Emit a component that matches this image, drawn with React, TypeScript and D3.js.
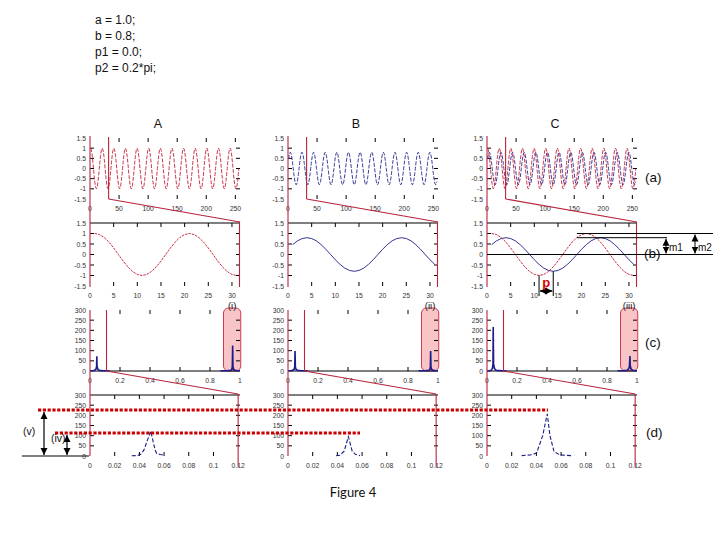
import React from "react";
import * as d3 from "d3";

// ---------------- data ----------------
const paramLines = ["a = 1.0;", "b = 0.8;", "p1 = 0.0;", "p2 = 0.2*pi;"];
const columnTitles = ["A", "B", "C"];
const rowLabels = ["(a)", "(b)", "(c)", "(d)"];
const boxLabels = ["(i)", "(ii)", "(iii)"];
const figureCaption = "Figure 4";

// time signals, samples 1..256
const signalA = [
  1, 0.95, 0.81, 0.59, 0.31, 0, -0.31, -0.59, -0.81, -0.95, -1, -0.95, -0.81, -0.59, -0.31, 0, 0.31, 0.59, 0.81, 0.95,
  1, 0.95, 0.81, 0.59, 0.31, 0, -0.31, -0.59, -0.81, -0.95, -1, -0.95, -0.81, -0.59, -0.31, 0, 0.31, 0.59, 0.81, 0.95,
  1, 0.95, 0.81, 0.59, 0.31, 0, -0.31, -0.59, -0.81, -0.95, -1, -0.95, -0.81, -0.59, -0.31, 0, 0.31, 0.59, 0.81, 0.95,
  1, 0.95, 0.81, 0.59, 0.31, 0, -0.31, -0.59, -0.81, -0.95, -1, -0.95, -0.81, -0.59, -0.31, 0, 0.31, 0.59, 0.81, 0.95,
  1, 0.95, 0.81, 0.59, 0.31, 0, -0.31, -0.59, -0.81, -0.95, -1, -0.95, -0.81, -0.59, -0.31, 0, 0.31, 0.59, 0.81, 0.95,
  1, 0.95, 0.81, 0.59, 0.31, 0, -0.31, -0.59, -0.81, -0.95, -1, -0.95, -0.81, -0.59, -0.31, 0, 0.31, 0.59, 0.81, 0.95,
  1, 0.95, 0.81, 0.59, 0.31, 0, -0.31, -0.59, -0.81, -0.95, -1, -0.95, -0.81, -0.59, -0.31, 0, 0.31, 0.59, 0.81, 0.95,
  1, 0.95, 0.81, 0.59, 0.31, 0, -0.31, -0.59, -0.81, -0.95, -1, -0.95, -0.81, -0.59, -0.31, 0, 0.31, 0.59, 0.81, 0.95,
  1, 0.95, 0.81, 0.59, 0.31, 0, -0.31, -0.59, -0.81, -0.95, -1, -0.95, -0.81, -0.59, -0.31, 0, 0.31, 0.59, 0.81, 0.95,
  1, 0.95, 0.81, 0.59, 0.31, 0, -0.31, -0.59, -0.81, -0.95, -1, -0.95, -0.81, -0.59, -0.31, 0, 0.31, 0.59, 0.81, 0.95,
  1, 0.95, 0.81, 0.59, 0.31, 0, -0.31, -0.59, -0.81, -0.95, -1, -0.95, -0.81, -0.59, -0.31, 0, 0.31, 0.59, 0.81, 0.95,
  1, 0.95, 0.81, 0.59, 0.31, 0, -0.31, -0.59, -0.81, -0.95, -1, -0.95, -0.81, -0.59, -0.31, 0, 0.31, 0.59, 0.81, 0.95,
  1, 0.95, 0.81, 0.59, 0.31, 0, -0.31, -0.59, -0.81, -0.95, -1, -0.95, -0.81, -0.59, -0.31, 0,
];
const signalB = [
  0.47, 0.65, 0.76, 0.8, 0.76, 0.65, 0.47, 0.25, 0, -0.25, -0.47, -0.65, -0.76, -0.8, -0.76, -0.65, -0.47, -0.25, 0, 0.25,
  0.47, 0.65, 0.76, 0.8, 0.76, 0.65, 0.47, 0.25, 0, -0.25, -0.47, -0.65, -0.76, -0.8, -0.76, -0.65, -0.47, -0.25, 0, 0.25,
  0.47, 0.65, 0.76, 0.8, 0.76, 0.65, 0.47, 0.25, 0, -0.25, -0.47, -0.65, -0.76, -0.8, -0.76, -0.65, -0.47, -0.25, 0, 0.25,
  0.47, 0.65, 0.76, 0.8, 0.76, 0.65, 0.47, 0.25, 0, -0.25, -0.47, -0.65, -0.76, -0.8, -0.76, -0.65, -0.47, -0.25, 0, 0.25,
  0.47, 0.65, 0.76, 0.8, 0.76, 0.65, 0.47, 0.25, 0, -0.25, -0.47, -0.65, -0.76, -0.8, -0.76, -0.65, -0.47, -0.25, 0, 0.25,
  0.47, 0.65, 0.76, 0.8, 0.76, 0.65, 0.47, 0.25, 0, -0.25, -0.47, -0.65, -0.76, -0.8, -0.76, -0.65, -0.47, -0.25, 0, 0.25,
  0.47, 0.65, 0.76, 0.8, 0.76, 0.65, 0.47, 0.25, 0, -0.25, -0.47, -0.65, -0.76, -0.8, -0.76, -0.65, -0.47, -0.25, 0, 0.25,
  0.47, 0.65, 0.76, 0.8, 0.76, 0.65, 0.47, 0.25, 0, -0.25, -0.47, -0.65, -0.76, -0.8, -0.76, -0.65, -0.47, -0.25, 0, 0.25,
  0.47, 0.65, 0.76, 0.8, 0.76, 0.65, 0.47, 0.25, 0, -0.25, -0.47, -0.65, -0.76, -0.8, -0.76, -0.65, -0.47, -0.25, 0, 0.25,
  0.47, 0.65, 0.76, 0.8, 0.76, 0.65, 0.47, 0.25, 0, -0.25, -0.47, -0.65, -0.76, -0.8, -0.76, -0.65, -0.47, -0.25, 0, 0.25,
  0.47, 0.65, 0.76, 0.8, 0.76, 0.65, 0.47, 0.25, 0, -0.25, -0.47, -0.65, -0.76, -0.8, -0.76, -0.65, -0.47, -0.25, 0, 0.25,
  0.47, 0.65, 0.76, 0.8, 0.76, 0.65, 0.47, 0.25, 0, -0.25, -0.47, -0.65, -0.76, -0.8, -0.76, -0.65, -0.47, -0.25, 0, 0.25,
  0.47, 0.65, 0.76, 0.8, 0.76, 0.65, 0.47, 0.25, 0, -0.25, -0.47, -0.65, -0.76, -0.8, -0.76, -0.65,
];
const zoomSamples = 31; // samples shown in row (b)
const zoomMarkTime = 32; // right edge of zoomed window in row (a)

// tick values
const timeTicksFull = [0, 50, 100, 150, 200, 250];
const timeTicksZoom = [0, 5, 10, 15, 20, 25, 30];
const ampTicks = [-1.5, -1, -0.5, 0, 0.5, 1, 1.5];
const freqTicksFull = [0, 0.2, 0.4, 0.6, 0.8, 1];
const freqTicksZoom = [0, 0.02, 0.04, 0.06, 0.08, 0.1, 0.12];
const magTicks = [0, 50, 100, 150, 200, 250, 300];

// spectra [frequency, magnitude], row (c): low band and mirrored high band
const specLowA = [[0, 1.5], [0.02, 1.5], [0.03, 3], [0.04, 9], [0.044, 22], [0.0455, 72], [0.047, 24], [0.052, 9], [0.062, 3], [0.09, 1.5], [0.13, 1]];
const specHighA = [[0.87, 1], [0.91, 1.5], [0.938, 3], [0.946, 9], [0.949, 24], [0.951, 125], [0.953, 22], [0.957, 9], [0.968, 3], [0.985, 1.5], [1, 1.5]];
const specLowB = [[0, 1.5], [0.02, 1.5], [0.03, 3], [0.04, 8], [0.045, 20], [0.047, 98], [0.049, 20], [0.054, 8], [0.064, 3], [0.09, 1.5], [0.13, 1]];
const specHighB = [[0.87, 1], [0.91, 1.5], [0.937, 3], [0.946, 8], [0.949, 20], [0.951, 98], [0.953, 20], [0.958, 8], [0.968, 3], [0.985, 1.5], [1, 1.5]];
const specLowC = [[0, 1.5], [0.02, 2], [0.028, 4], [0.036, 12], [0.04, 35], [0.0415, 216], [0.0425, 130], [0.044, 35], [0.05, 12], [0.06, 4], [0.09, 2], [0.13, 1]];
const specHighC = [[0.87, 1], [0.91, 2], [0.935, 4], [0.946, 12], [0.95, 28], [0.953, 74], [0.955, 26], [0.96, 10], [0.97, 4], [0.985, 2], [1, 1.5]];
// row (d): zoomed spectra
const specZoomA = [[0.0338, 1], [0.0383, 2], [0.041, 8], [0.0437, 30], [0.0492, 122], [0.0527, 30], [0.054, 12], [0.057, 7], [0.0594, 5]];
const specZoomB = [[0.0389, 1], [0.042, 4], [0.0455, 24], [0.0489, 95], [0.052, 24], [0.0545, 8], [0.0583, 2]];
const specZoomC = [[0.0281, 2], [0.035, 5], [0.0402, 15], [0.0451, 100], [0.0488, 207], [0.051, 100], [0.0543, 21], [0.059, 6], [0.065, 3], [0.0697, 1]];
const spectrumZoomMark = 0.11; // red marker in row (c)
const spectrumZoomEnd = 0.12; // red marker in row (d)
const boxBand = [0.89, 1.005]; // pink highlight band in row (c)

// annotations
const phaseSpan = [11, 14]; // p: trough of red vs trough of blue (samples)
const phaseLevels = [-1, -0.8];
const m1Level = 0.8;
const m2Level = 1.0;
const mLineStart = 19;
const levelV = 226; // (v) level in row (d) units
const levelIV = 113; // (iv) level in row (d) units

// ---------------- layout ----------------
const COL_LEFT = [90, 288, 487];
const COL_W = 150;
const ROW_A = [199, 138];
const ROW_B = [286, 223];
const ROW_C = [371, 310];
const ROW_D = [456, 395];

const RED = "#c4152d";
const ZRED = "#b8243c";
const BLUE = "#1c1c8a";
const FONT = "'Liberation Sans', Arial, sans-serif";

type Pt = [number, number];

function Frame({ x, y, xTicks, yTicks, top, bottom, left, right }: any) {
  const fmt = (v: number) => String(v);
  return (
    <g fontFamily={FONT} fontSize={6.8} fill="#333">
      {xTicks.map((t: number) => (
        <text key={"xl" + t} x={x(t)} y={bottom + 11.5} textAnchor="middle">
          {fmt(t)}
        </text>
      ))}
      {yTicks.map((t: number) => (
        <text key={"yl" + t} x={left - 4} y={y(t) + 2.5} textAnchor="end">
          {fmt(t)}
        </text>
      ))}
      <g stroke="#000" strokeWidth={1}>
        {xTicks
          .filter((t: number) => x(t) > left + 2 && x(t) < right - 2)
          .map((t: number) => (
            <g key={"xt" + t}>
              <line x1={x(t)} x2={x(t)} y1={top} y2={top + 4} />
              <line x1={x(t)} x2={x(t)} y1={bottom} y2={bottom - 4} />
            </g>
          ))}
        {yTicks
          .filter((t: number) => y(t) > top + 2 && y(t) < bottom - 2)
          .map((t: number) => (
            <g key={"yt" + t}>
              <line x1={right} x2={right - 4} y1={y(t)} y2={y(t)} />
              <line x1={left} x2={left + 4} y1={y(t)} y2={y(t)} />
            </g>
          ))}
      </g>
    </g>
  );
}

export default function App() {
  const columns = [
    { sigs: [{ d: signalA, c: RED }], low: specLowA, high: specHighA, zoom: specZoomA },
    { sigs: [{ d: signalB, c: BLUE }], low: specLowB, high: specHighB, zoom: specZoomB },
    {
      sigs: [
        { d: signalB, c: BLUE },
        { d: signalA, c: RED },
      ],
      low: specLowC,
      high: specHighC,
      zoom: specZoomC,
    },
  ];

  const dScaleY = d3.scaleLinear().domain([0, 300]).range(ROW_D);
  const cScaleB = d3.scaleLinear().domain([-1.5, 1.5]).range(ROW_B);
  const cxB = d3.scaleLinear().domain([0, 31.7]).range([COL_LEFT[2], COL_LEFT[2] + COL_W]);

  return (
    <svg
      width={720}
      height={540}
      style={{ position: "absolute", left: 0, top: 0, background: "#fff" }}
    >
      <defs>
        <marker
          id="ah"
          markerUnits="userSpaceOnUse"
          markerWidth={8}
          markerHeight={8}
          refX={7}
          refY={4}
          orient="auto-start-reverse"
        >
          <path d="M0,0.5 L7,4 L0,7.5 Z" fill="#000" />
        </marker>
      </defs>
      <rect width={720} height={540} fill="#fff" />

      {/* parameter text */}
      <g fontFamily={FONT} fontSize={12} fill="#111">
        {paramLines.map((s, i) => (
          <text key={s} x={95} y={24 + i * 16}>
            {s}
          </text>
        ))}
      </g>

      {columns.map((col, ci) => {
        const L = COL_LEFT[ci];
        const R = L + COL_W;
        const xa = d3.scaleLinear().domain([0, 258]).range([L, R]);
        const ya = d3.scaleLinear().domain([-1.5, 1.5]).range(ROW_A);
        const xb = d3.scaleLinear().domain([0, 31.7]).range([L, R]);
        const yb = d3.scaleLinear().domain([-1.5, 1.5]).range(ROW_B);
        const xc = d3.scaleLinear().domain([0, 1]).range([L, R]);
        const yc = d3.scaleLinear().domain([0, 300]).range(ROW_C);
        const xd = d3.scaleLinear().domain([0, 0.1215]).range([L, R]);
        const yd = d3.scaleLinear().domain([0, 300]).range(ROW_D);
        const la = d3.line<Pt>().x((p) => xa(p[0])).y((p) => ya(p[1]));
        const lb = d3.line<Pt>().x((p) => xb(p[0])).y((p) => yb(p[1]));
        const lc = d3.line<Pt>().x((p) => xc(p[0])).y((p) => yc(p[1]));
        const ld = d3.line<Pt>().x((p) => xd(p[0])).y((p) => yd(p[1]));
        return (
          <g key={ci}>
            <text
              x={(L + R) / 2 - 7}
              y={128}
              textAnchor="middle"
              fontFamily={FONT}
              fontSize={12.5}
              fill="#111"
            >
              {columnTitles[ci]}
            </text>

            {/* row a */}
            <Frame x={xa} y={ya} xTicks={timeTicksFull} yTicks={ampTicks} top={ROW_A[1]} bottom={ROW_A[0]} left={L} right={R} />
            {col.sigs.map((s, si) => (
              <path
                key={"a" + si}
                d={la(s.d.map((v, i) => [i + 1, v] as Pt)) || ""}
                fill="none"
                stroke={s.c}
                strokeWidth={0.85}
                strokeDasharray="4 1.5"
              />
            ))}

            {/* row b */}
            <line x1={L} x2={R} y1={ROW_B[1]} y2={ROW_B[1]} stroke="#000" strokeWidth={1.2} />
            <Frame x={xb} y={yb} xTicks={timeTicksZoom} yTicks={ampTicks} top={ROW_B[1]} bottom={ROW_B[0]} left={L} right={R} />
            {col.sigs.map((s, si) => (
              <path
                key={"b" + si}
                d={lb(s.d.slice(0, zoomSamples).map((v, i) => [i + 1, v] as Pt)) || ""}
                fill="none"
                stroke={s.c}
                strokeWidth={0.9}
                strokeDasharray={s.c === RED ? "2.5 1" : undefined}
              />
            ))}

            {/* row c */}
            <rect
              x={xc(boxBand[0])}
              y={ROW_C[1] - 2}
              width={xc(boxBand[1]) - xc(boxBand[0])}
              height={ROW_C[0] - ROW_C[1] + 2}
              rx={5}
              fill="#f8c4c6"
              stroke="#d23a52"
              strokeWidth={1}
            />
            <text
              x={(xc(boxBand[0]) + xc(boxBand[1])) / 2}
              y={ROW_C[1] - 1}
              textAnchor="middle"
              fontFamily={FONT}
              fontSize={9.5}
              fill="#111"
            >
              {boxLabels[ci]}
            </text>
            <Frame x={xc} y={yc} xTicks={freqTicksFull} yTicks={magTicks} top={ROW_C[1]} bottom={ROW_C[0]} left={L} right={R} />
            <line x1={L} x2={R} y1={ROW_C[0]} y2={ROW_C[0]} stroke="#000" strokeWidth={1.2} />
            <path d={lc(col.low as Pt[]) || ""} fill="none" stroke={BLUE} strokeWidth={1.6} />
            <path d={lc(col.high as Pt[]) || ""} fill="none" stroke={BLUE} strokeWidth={1.6} />

            {/* row d */}
            <line x1={L} x2={R} y1={ROW_D[1]} y2={ROW_D[1]} stroke="#000" strokeWidth={1.2} />
            <Frame x={xd} y={yd} xTicks={freqTicksZoom} yTicks={magTicks} top={ROW_D[1]} bottom={ROW_D[0]} left={L} right={R} />
            <path d={ld(col.zoom as Pt[]) || ""} fill="none" stroke={BLUE} strokeWidth={1.1} strokeDasharray="4 2" />

            {/* zoom guide lines */}
            <g stroke={ZRED} strokeWidth={1.1} fill="none">
              <line x1={L} x2={L} y1={ROW_A[1] - 2} y2={ROW_B[0] + 1} />
              <line x1={L} x2={L} y1={ROW_C[1]} y2={ROW_D[0]} />
              <line x1={xa(zoomMarkTime)} x2={xa(zoomMarkTime)} y1={ROW_A[1] - 1} y2={ROW_A[0]} />
              <line x1={xa(zoomMarkTime)} x2={R} y1={ROW_A[0]} y2={ROW_B[1] - 1} />
              <line x1={R - 0.5} x2={R - 0.5} y1={ROW_B[1] - 1} y2={ROW_B[0] + 1} />
              <line x1={xc(spectrumZoomMark)} x2={xc(spectrumZoomMark)} y1={ROW_C[1]} y2={ROW_C[0]} />
              <line x1={xc(spectrumZoomMark)} x2={xd(spectrumZoomEnd)} y1={ROW_C[0]} y2={ROW_D[1] - 1} />
              <line x1={xd(spectrumZoomEnd)} x2={xd(spectrumZoomEnd)} y1={ROW_D[1] - 1} y2={ROW_D[0] + 11} />
            </g>
          </g>
        );
      })}

      {/* C row b annotations */}
      <g stroke="#000" strokeWidth={1} fill="none">
        <line x1={cxB(mLineStart)} x2={713} y1={cScaleB(m2Level)} y2={cScaleB(m2Level)} />
        <line x1={cxB(mLineStart)} x2={667} y1={cScaleB(m1Level)} y2={cScaleB(m1Level)} />
        <line x1={COL_LEFT[2]} x2={713} y1={cScaleB(0)} y2={cScaleB(0)} />
        <line x1={666} x2={666} y1={cScaleB(m1Level) + 1} y2={cScaleB(0) - 1} markerStart="url(#ah)" markerEnd="url(#ah)" />
        <line x1={695} x2={695} y1={cScaleB(m2Level) + 1} y2={cScaleB(0) - 1} markerStart="url(#ah)" markerEnd="url(#ah)" />
        <line x1={cxB(phaseSpan[0])} x2={cxB(phaseSpan[0])} y1={cScaleB(phaseLevels[0])} y2={ROW_B[0] + 10} />
        <line x1={cxB(phaseSpan[1])} x2={cxB(phaseSpan[1])} y1={cScaleB(phaseLevels[1])} y2={ROW_B[0] + 10} />
        <line
          x1={cxB(phaseSpan[0]) + 1}
          x2={cxB(phaseSpan[1]) - 1}
          y1={ROW_B[0] + 5}
          y2={ROW_B[0] + 5}
          strokeWidth={1.5}
          markerStart="url(#ah)"
          markerEnd="url(#ah)"
        />
      </g>
      <text
        x={(cxB(phaseSpan[0]) + cxB(phaseSpan[1])) / 2}
        y={287}
        textAnchor="middle"
        fontFamily={FONT}
        fontWeight="bold"
        fontSize={13}
        fill="#d40000"
      >
        p
      </text>
      <g fontFamily={FONT} fontSize={10} fill="#111">
        <text x={669} y={251}>m1</text>
        <text x={698} y={251}>m2</text>
      </g>

      {/* right-side row labels */}
      <g fontFamily={FONT} fontSize={13.5} fill="#111">
        <text x={645} y={182}>{rowLabels[0]}</text>
        <text x={644} y={258}>{rowLabels[1]}</text>
        <text x={645} y={347}>{rowLabels[2]}</text>
        <text x={646} y={437}>{rowLabels[3]}</text>
      </g>

      {/* (iv) / (v) levels */}
      <g stroke="#c80000" strokeWidth={3} strokeDasharray="3.2 1.6">
        <line x1={38} x2={548} y1={dScaleY(levelV)} y2={dScaleY(levelV)} />
        <line x1={55} x2={360} y1={dScaleY(levelIV)} y2={dScaleY(levelIV)} />
      </g>
      <g stroke="#000" strokeWidth={1.2}>
        <line x1={22} x2={COL_LEFT[0] - 1} y1={dScaleY(0)} y2={dScaleY(0)} />
        <line x1={44} x2={44} y1={dScaleY(levelV) + 2} y2={dScaleY(0) - 1} markerStart="url(#ah)" markerEnd="url(#ah)" />
        <line x1={67} x2={67} y1={dScaleY(levelIV) + 2} y2={dScaleY(0) - 1} markerStart="url(#ah)" markerEnd="url(#ah)" />
      </g>
      <g fontFamily={FONT} fontSize={10.5} fill="#111">
        <text x={23} y={435}>(v)</text>
        <text x={51} y={442}>(iv)</text>
      </g>

      <text x={353} y={497} textAnchor="middle" fontFamily="Lato, 'Open Sans', sans-serif" fontSize={13} fill="#111">
        {figureCaption}
      </text>
    </svg>
  );
}
